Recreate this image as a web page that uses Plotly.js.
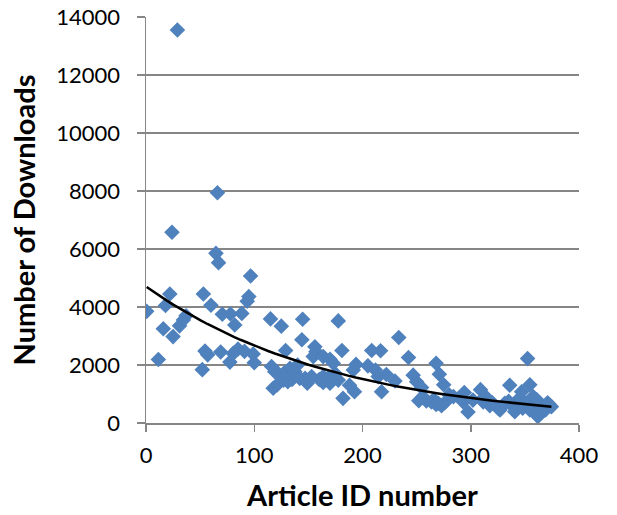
<!DOCTYPE html>
<html>
<head>
<meta charset="utf-8">
<script src="https://cdn.plot.ly/plotly-3.0.1.min.js"></script>
<style>html,body{margin:0;padding:0;background:#fff;}#chart{width:617px;height:515px;}</style>
</head>
<body>
<div id="chart"></div>
<script>
const articleIds = [0.6,11.4,16,18,22,24,25,29,31,34.5,37,52,53,54.5,57,60,64.6,66,67,69,70.5,78,77.5,80.6,82,85,88.5,91,93.5,95,96.6,99,100,
115,116,117.5,119,121,122,125,127,127.5,129,131,133,135,137.6,140,142,144,144.7,147,149,153,157,156,154.5,160,163.7,163.7,163.7,168,170,170,173,175,177.6,177.6,181,182,188,192.6,194,191.5,
205,208.5,212,214.5,216.7,217.6,222,230,233.5,242.5,246.8,250,254.6,252,256,259,263.7,266,268,268,271,275,270,273,276,280,284,294,293,297.5,302,309,311.5,311.5,314,317.6,320,325.5,327,331.5,
335,336,339,340.7,342,345,347,348,350,352.5,354.6,354.6,357.6,358,361,362,364,366,367,369,371,373,374.5];
const downloads = [3850,2190,3250,4050,4450,6580,2980,13550,3350,3550,3700,1840,4450,2480,2350,4060,5850,7940,5530,2450,3750,3760,2100,2400,3380,2550,3780,2470,4200,4360,5070,2380,2080,
3590,1950,1200,1770,1310,1710,3340,1480,1720,2500,1420,1890,1500,1770,2000,1540,2870,3580,1540,1370,1600,2460,2630,2290,1500,2290,1600,1400,1540,2200,1370,2060,1700,3520,1480,2500,850,1300,1080,2020,1830,
1970,2500,1830,1600,2490,1080,1670,1450,2950,2260,1650,1420,1220,770,900,760,730,800,2060,640,1680,1320,680,600,700,970,910,1050,730,380,790,1150,730,850,900,600,700,500,450,680,
750,1300,560,390,620,850,1080,510,700,2220,1320,450,910,480,800,220,680,380,560,450,700,620,560];

// Exponential trendline fitted (least squares on ln y), as Excel does
const n = articleIds.length;
let sx=0, sy=0, sxx=0, sxy=0;
for (let i=0;i<n;i++){ const lx=articleIds[i], ly=Math.log(downloads[i]); sx+=lx; sy+=ly; sxx+=lx*lx; sxy+=lx*ly; }
const b = (n*sxy - sx*sy)/(n*sxx - sx*sx);
const a = Math.exp((sy - b*sx)/n);
const xMin = Math.min(...articleIds), xMax = Math.max(...articleIds);
const trendX = [], trendY = [];
for (let k=0;k<=60;k++){ const xv = xMin + (xMax-xMin)*k/60; trendX.push(xv); trendY.push(a*Math.exp(b*xv)); }

const font = "Lato, 'Open Sans', sans-serif";
const data = [
  {x: articleIds, y: downloads, type:'scatter', mode:'markers',
   marker:{symbol:'diamond', size:12, color:'#4F81BD', line:{width:0}}, hoverinfo:'x+y'},
  {x: trendX, y: trendY, type:'scatter', mode:'lines', line:{color:'#000000', width:2.5}, hoverinfo:'skip'}
];
const layout = {
  width:617, height:515,
  margin:{l:146, r:38, t:17, b:92},
  showlegend:false,
  paper_bgcolor:'#ffffff', plot_bgcolor:'#ffffff',
  font:{family:font, color:'#000000', size:22},
  xaxis:{range:[0,400], dtick:100, tick0:0, showgrid:false, zeroline:false, tickformat:'d',
    showline:true, linecolor:'#868686', linewidth:1.5, ticks:'outside', ticklen:7, tickcolor:'#868686', tickwidth:1.5,
    tickfont:{family:font, size:22, color:'#000'}, ticklabelstandoff:5,
    title:{text:'Article ID number', font:{family:font, size:29, color:'#000', weight:'bold'}, standoff:19}},
  yaxis:{range:[0,14000], dtick:2000, tick0:0, showgrid:true, gridcolor:'#868686', gridwidth:1.5, zeroline:false, tickformat:'d',
    showline:true, linecolor:'#868686', linewidth:1.5, ticks:'outside', ticklen:8, tickcolor:'#868686', tickwidth:1.5,
    tickfont:{family:font, size:22, color:'#000'}, ticklabelstandoff:12,
    title:{text:'Number of Downloads', font:{family:font, size:29, color:'#000', weight:'bold'}, standoff:12}}
};
Plotly.newPlot('chart', data, layout, {displayModeBar:false, staticPlot:true});
</script>
</body>
</html>
